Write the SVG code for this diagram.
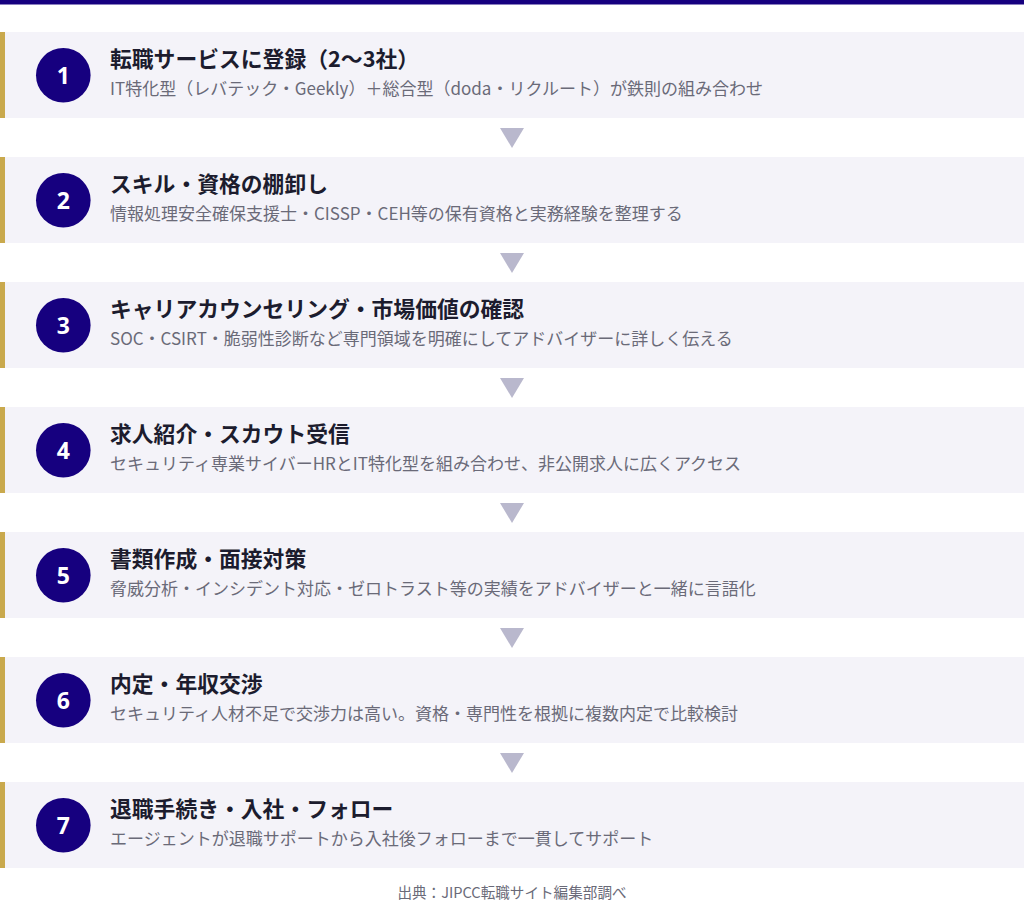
<svg xmlns="http://www.w3.org/2000/svg" width="1024" height="910" viewBox="0 0 1024 910">
<defs>
<style>
.card{fill:#f4f3f9}
.bar{fill:#c9a94d}
.circ{fill:#16007f}
.num{font-family:"Noto Sans","Noto Sans CJK JP",sans-serif;font-weight:700;font-size:23px;fill:#fff;text-anchor:middle}
.ttl{font-family:"Noto Sans CJK JP","Noto Sans",sans-serif;font-weight:700;font-size:21.8px;fill:#1c1c2e}
.sub{font-family:"Noto Sans CJK JP","Noto Sans",sans-serif;font-size:17px;fill:#6a6a78}
.arr{fill:#b9b8cd}
.foot{font-family:"Noto Sans CJK JP","Noto Sans",sans-serif;font-size:14.6px;fill:#6a6a78;text-anchor:middle}
</style>
</defs>
<rect width="1024" height="910" fill="#ffffff"/>
<rect x="0" y="0" width="1024" height="4.5" fill="#16007f"/>
<g id="step1" transform="translate(0,32)">
<rect class="card" x="0" y="0" width="1024" height="86"/><rect class="bar" x="0" y="0" width="5" height="86"/>
<circle class="circ" cx="63.3" cy="43.3" r="27.3"/><text class="num" x="63.3" y="52">1</text>
<text class="ttl" x="110" y="35">転職サービスに登録（2〜3社）</text>
<text class="sub" x="110" y="63">IT特化型（レバテック・Geekly）＋総合型（doda・リクルート）が鉄則の組み合わせ</text>
</g>
<g id="step2" transform="translate(0,157)">
<rect class="card" x="0" y="0" width="1024" height="86"/><rect class="bar" x="0" y="0" width="5" height="86"/>
<circle class="circ" cx="63.3" cy="43.3" r="27.3"/><text class="num" x="63.3" y="52">2</text>
<text class="ttl" x="110" y="35">スキル・資格の棚卸し</text>
<text class="sub" x="110" y="63">情報処理安全確保支援士・CISSP・CEH等の保有資格と実務経験を整理する</text>
</g>
<g id="step3" transform="translate(0,282)">
<rect class="card" x="0" y="0" width="1024" height="86"/><rect class="bar" x="0" y="0" width="5" height="86"/>
<circle class="circ" cx="63.3" cy="43.3" r="27.3"/><text class="num" x="63.3" y="52">3</text>
<text class="ttl" x="110" y="35">キャリアカウンセリング・市場価値の確認</text>
<text class="sub" x="110" y="63">SOC・CSIRT・脆弱性診断など専門領域を明確にしてアドバイザーに詳しく伝える</text>
</g>
<g id="step4" transform="translate(0,407)">
<rect class="card" x="0" y="0" width="1024" height="86"/><rect class="bar" x="0" y="0" width="5" height="86"/>
<circle class="circ" cx="63.3" cy="43.3" r="27.3"/><text class="num" x="63.3" y="52">4</text>
<text class="ttl" x="110" y="35">求人紹介・スカウト受信</text>
<text class="sub" x="110" y="63">セキュリティ専業サイバーHRとIT特化型を組み合わせ、非公開求人に広くアクセス</text>
</g>
<g id="step5" transform="translate(0,532)">
<rect class="card" x="0" y="0" width="1024" height="86"/><rect class="bar" x="0" y="0" width="5" height="86"/>
<circle class="circ" cx="63.3" cy="43.3" r="27.3"/><text class="num" x="63.3" y="52">5</text>
<text class="ttl" x="110" y="35">書類作成・面接対策</text>
<text class="sub" x="110" y="63">脅威分析・インシデント対応・ゼロトラスト等の実績をアドバイザーと一緒に言語化</text>
</g>
<g id="step6" transform="translate(0,657)">
<rect class="card" x="0" y="0" width="1024" height="86"/><rect class="bar" x="0" y="0" width="5" height="86"/>
<circle class="circ" cx="63.3" cy="43.3" r="27.3"/><text class="num" x="63.3" y="52">6</text>
<text class="ttl" x="110" y="35">内定・年収交渉</text>
<text class="sub" x="110" y="63">セキュリティ人材不足で交渉力は高い。資格・専門性を根拠に複数内定で比較検討</text>
</g>
<g id="step7" transform="translate(0,782)">
<rect class="card" x="0" y="0" width="1024" height="86"/><rect class="bar" x="0" y="0" width="5" height="86"/>
<circle class="circ" cx="63.3" cy="43.3" r="27.3"/><text class="num" x="63.3" y="52">7</text>
<text class="ttl" x="110" y="35">退職手続き・入社・フォロー</text>
<text class="sub" x="110" y="63">エージェントが退職サポートから入社後フォローまで一貫してサポート</text>
</g>
<g id="connectors">
<polygon class="arr" points="500,128 524,128 512,148"/>
<polygon class="arr" points="500,253 524,253 512,273"/>
<polygon class="arr" points="500,378 524,378 512,398"/>
<polygon class="arr" points="500,503 524,503 512,523"/>
<polygon class="arr" points="500,628 524,628 512,648"/>
<polygon class="arr" points="500,753 524,753 512,773"/>
</g>
<text class="foot" x="512" y="898">出典：JIPCC転職サイト編集部調べ</text>
</svg>
